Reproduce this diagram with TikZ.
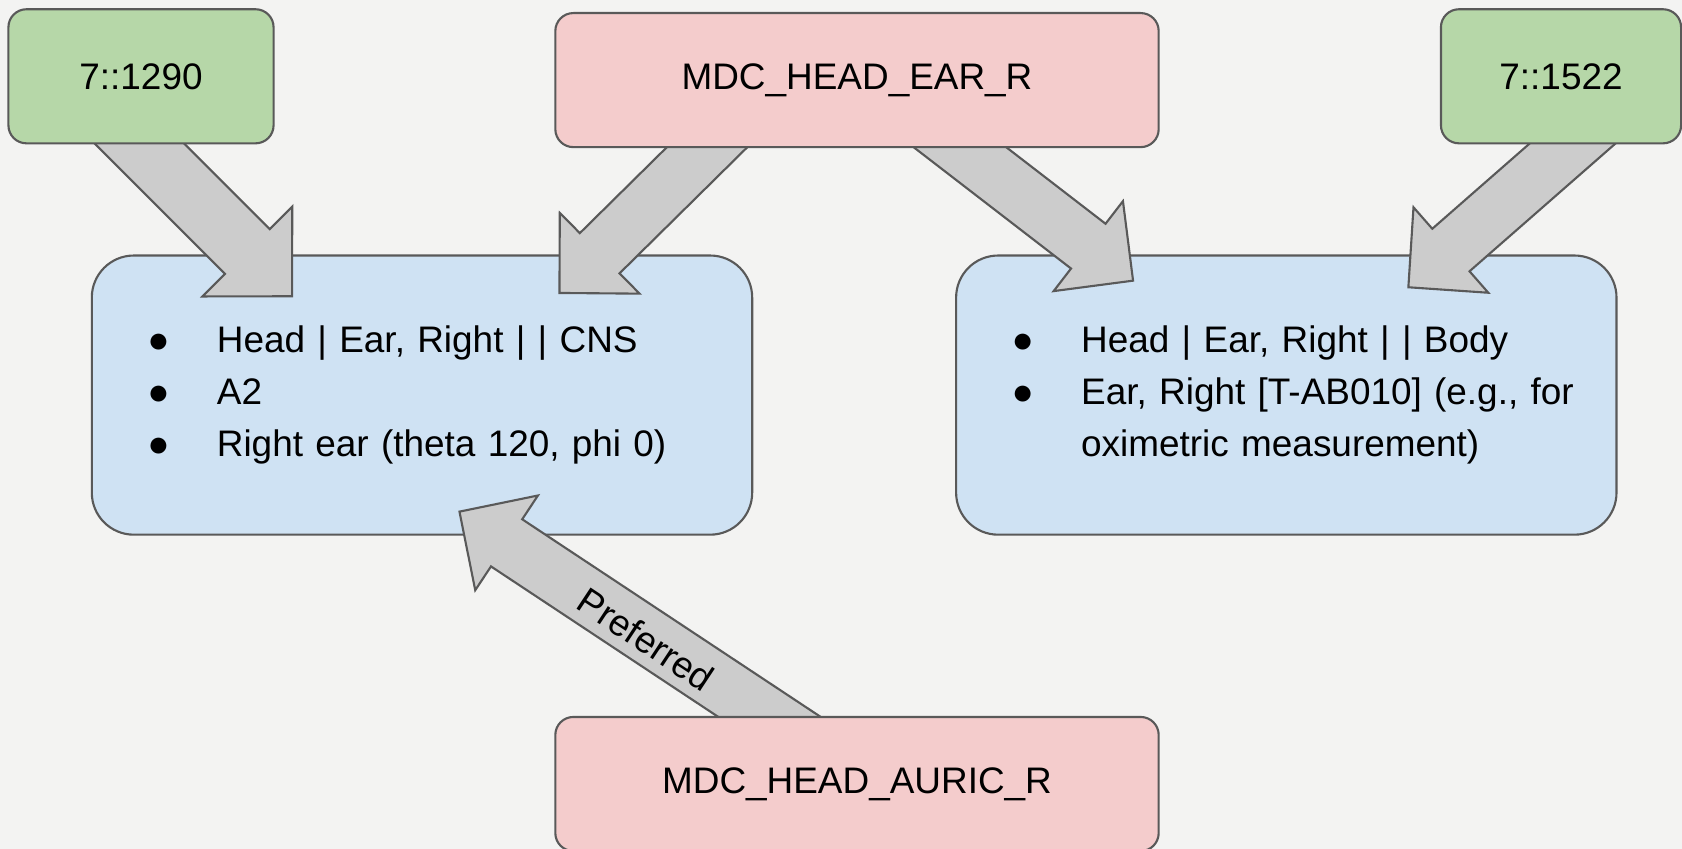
\documentclass[tikz,border=0pt]{standalone}
\usepackage{fontspec}
\setmainfont{Liberation Sans}
\usetikzlibrary{calc}

\definecolor{codegreen}{HTML}{B6D7A8}
\definecolor{mdcpink}{HTML}{F4CCCC}
\definecolor{siteblue}{HTML}{CFE2F3}
\definecolor{arrowgray}{HTML}{CCCCCC}
\definecolor{edgegray}{HTML}{595959}
\definecolor{paper}{HTML}{F3F3F2}

\pgfdeclarelayer{boxlayer}
\pgfdeclarelayer{arrowlayer}
\pgfsetlayers{boxlayer,arrowlayer,main}

\tikzset{
  srcbox/.style={draw=edgegray, line width=0.6pt, rounded corners=0.18cm,
    minimum height=1.34cm, inner sep=0pt},
  sitebox/.style={draw=edgegray, line width=0.6pt, fill=siteblue,
    rounded corners=0.42cm, minimum width=6.60cm, minimum height=2.79cm,
    text width=5.49cm, inner xsep=0.555cm, inner ysep=0pt, align=left},
  bigarrow/.style={draw=edgegray, line width=0.6pt, fill=arrowgray, line join=miter},
}

\newcommand{\bul}{\makebox[0.695cm][l]{●}}

% block arrow from tail #2 to tip #3, #1 = size factor
\newcommand{\blockarrow}[3][1]{%
  \pgfmathsetmacro{\aw}{#1*0.2825}%
  \pgfmathsetmacro{\ah}{#1*0.5675}%
  \pgfmathsetmacro{\al}{#1*0.565}%
  \coordinate (ab) at ($(#3)!\al cm!(#2)$);
  \draw[bigarrow] ($(#2)!\aw cm!90:(#3)$) -- ($(ab)!\aw cm!90:(#3)$)
    -- ($(ab)!\ah cm!90:(#3)$) -- (#3) -- ($(ab)!\ah cm!-90:(#3)$)
    -- ($(ab)!\aw cm!-90:(#3)$) -- ($(#2)!\aw cm!-90:(#3)$) -- cycle;
}

\begin{document}
\begin{tikzpicture}[x=0.01cm, y=-0.01cm, font=\fontsize{10.5pt}{14.8pt}\selectfont]
  \useasboundingbox (0,0) rectangle (1682,849);

  \begin{pgfonlayer}{boxlayer}
    \fill[paper] (0,0) rectangle (1682,849);
    \node[sitebox] (left) at (422,395.1)
      {\bul Head | Ear, Right | | CNS\\
       \bul A2\\
       \bul Right ear (theta 120, phi 0)};
    \node[sitebox] (right) at (1286.3,395.1)
      {\bul Head | Ear, Right | | Body\\
       \mbox{\bul Ear, Right [T-AB010] (e.g., for}\\
       \hspace*{0.695cm}oximetric measurement)};
  \end{pgfonlayer}

  \node[srcbox, fill=codegreen, minimum width=2.65cm] (code1) at (141,76.3) {7::1290};
  \node[srcbox, fill=codegreen, minimum width=2.40cm] (code2) at (1561,76.3) {7::1522};
  \node[srcbox, fill=mdcpink, minimum width=6.03cm] (ear) at (857,80.1) {MDC\_HEAD\_EAR\_R};
  \node[srcbox, fill=mdcpink, minimum width=6.03cm] (auric) at (857,784) {MDC\_HEAD\_AURIC\_R};

  % arrow ends (tails hidden under the source boxes)
  \coordinate (t1) at ($(code1.south)+(-32.7,-31.9)$);
  \coordinate (h1) at ($(left.north west)+(201.3,41.8)$);
  \coordinate (t2) at ($(ear.south)+(-118.6,-31.9)$);
  \coordinate (h2) at ($(left.north west)+(468.7,38.5)$);
  \coordinate (t3) at ($(ear.south)+(68.4,-27.6)$);
  \coordinate (h3) at ($(right.north west)+(178,26.2)$);
  \coordinate (t4) at ($(code2.south)+(44.7,-29.9)$);
  \coordinate (h4) at ($(right.north west)+(453.3,32.8)$);
  \coordinate (t5) at ($(auric.north)+(-46.9,27.9)$);
  \coordinate (h5) at ($(left.south west)+(368.7,-24.1)$);

  \begin{pgfonlayer}{arrowlayer}
    \blockarrow[1.12]{t1}{h1}
    \blockarrow{t2}{h2}
    \blockarrow{t3}{h3}
    \blockarrow{t4}{h4}
    \blockarrow{t5}{h5}
    \path (t5) -- (h5) node[pos=0.4625, sloped, yshift=-1pt] (pref) {Preferred};
  \end{pgfonlayer}
\end{tikzpicture}
\end{document}
